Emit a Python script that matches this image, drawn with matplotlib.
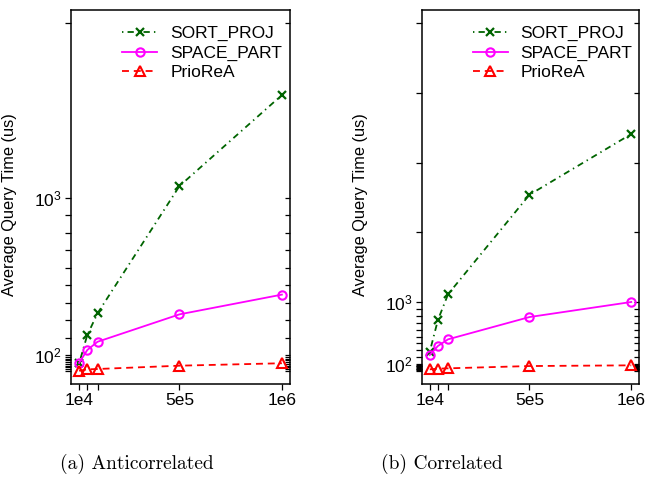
import matplotlib
matplotlib.use("Agg")
import matplotlib.pyplot as plt
from matplotlib.ticker import FixedLocator, NullFormatter

plt.rcParams['font.family'] = ['Liberation Sans', 'DejaVu Sans']
plt.rcParams['mathtext.fontset'] = 'custom'
plt.rcParams['mathtext.rm'] = 'Liberation Sans'
plt.rcParams['lines.scale_dashes'] = False

# ---- data ----
sizes = [1e4, 5e4, 1e5, 5e5, 1e6]
xtick_vals = [1e4, 5e4, 1e5, 5e5, 1e6]
xtick_labels = ["1e4", "", "", "5e5", "1e6"]
series_names = ["SORT_PROJ", "SPACE_PART", "PrioReA"]

sort_anti = [52, 215, 339, 1068, 1589]
space_anti = [55, 129, 176, 333, 446]
prio_anti = [10, 18, 20, 39, 53]

sort_corr = [282, 737, 1108, 2537, 3409]
space_corr = [234, 364, 460, 780, 996]
prio_corr = [29, 38, 43, 76, 86]

captions = ["(a) Anticorrelated", "(b) Correlated"]
ylabel = "Average Query Time (us)"

W, H = 649, 486
fig = plt.figure(figsize=(W / 100, H / 100), dpi=100)

def px_axes(x0, y0, x1, y1):
    return fig.add_axes([x0 / W, 1 - y1 / H, (x1 - x0) / W, (y1 - y0) / H])

panels = [
    dict(box=(71, 10, 290, 383.5), ylim=(-63, 2076), top=2000,
         data=(sort_anti, space_anti, prio_anti), cap_x=136.5),
    dict(box=(421.7, 10, 639.3, 384), ylim=(-182, 5191), top=5000,
         data=(sort_corr, space_corr, prio_corr), cap_x=442),
]

styles = [
    dict(color='#006400', linestyle=(0, (1, 3, 4.5, 3)), marker='x', ms=6, mew=1.6),
    dict(color='#FF00FF', linestyle='-', marker='o', ms=6, mew=1.5, mfc='none'),
    dict(color='#FF0000', linestyle=(0, (5, 3.5)), marker='^', ms=7, mew=1.5, mfc='none'),
]

for i, p in enumerate(panels):
    ax = px_axes(*p['box'])
    for name, vals, st in zip(series_names, p['data'], styles):
        ax.plot(sizes, vals, label=name, lw=1.3, **st)
    ax.set_xlim(1e4 - 0.04 * 990000, 1e6 + 0.04 * 990000)
    ax.set_ylim(*p['ylim'])
    ax.xaxis.set_major_locator(FixedLocator(xtick_vals))
    ax.set_xticklabels(xtick_labels)
    major = [100, 1000]
    minor = list(range(10, 100, 10)) + list(range(200, 1000, 100)) + list(range(2000, p['top'] + 1, 1000))
    ax.yaxis.set_major_locator(FixedLocator(major))
    ax.set_yticklabels([r'$\mathregular{10^{2}}$', r'$\mathregular{10^{3}}$'])
    ax.yaxis.set_minor_locator(FixedLocator(minor))
    ax.yaxis.set_minor_formatter(NullFormatter())
    ax.tick_params(axis='both', which='both', direction='out', length=4.2, width=0.9,
                   labelsize=12.5, pad=2.5, colors='black')
    ax.tick_params(axis='y', which='both', right=False)
    sec = ax.secondary_yaxis('right')
    sec.yaxis.set_major_locator(FixedLocator(major))
    sec.yaxis.set_minor_locator(FixedLocator(minor))
    sec.yaxis.set_major_formatter(NullFormatter())
    sec.yaxis.set_minor_formatter(NullFormatter())
    sec.tick_params(axis='y', which='both', direction='in', length=3.5, width=0.9)
    sec.spines['right'].set_visible(False)
    for s in ax.spines.values():
        s.set_linewidth(1.1)
    ax.set_ylabel(ylabel, fontsize=11.8)
    ax.yaxis.set_label_coords(-53.5 / (p['box'][2] - p['box'][0]), 0.48)
    ax.legend(loc='upper left', bbox_to_anchor=(0.235, 0.957), frameon=False,
              fontsize=12.5, handlelength=2.0, handletextpad=0.75,
              labelspacing=0.235, borderpad=0, borderaxespad=0)
    fig.text(p['cap_x'] / W, 1 - 464 / H, captions[i],
             family='cmr10', fontsize=14, ha='center', va='center')

fig.savefig("out.png", dpi=100)
